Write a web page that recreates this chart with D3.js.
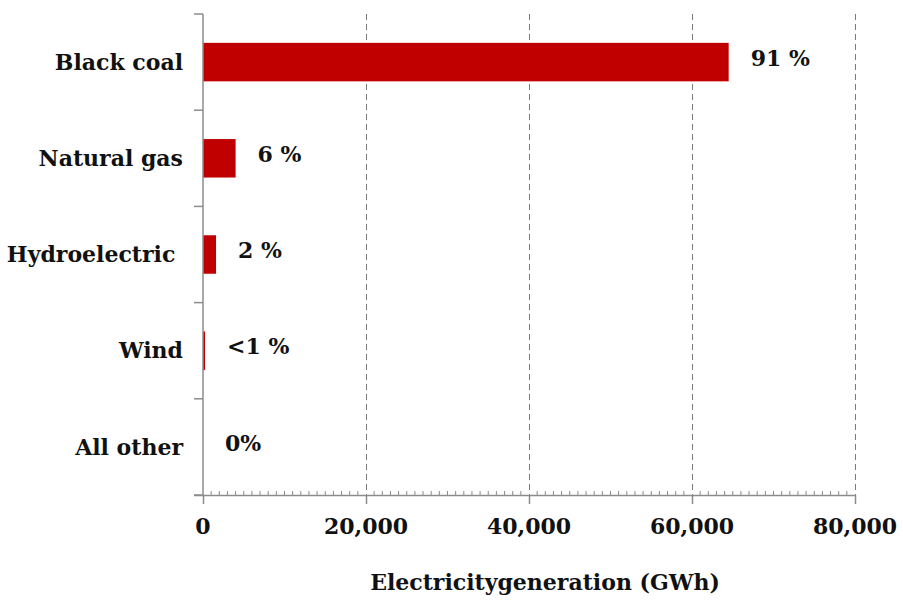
<!DOCTYPE html>
<html>
<head>
<meta charset="utf-8">
<script src="https://cdn.jsdelivr.net/npm/d3@7/dist/d3.min.js"></script>
<style>
  html, body { margin: 0; padding: 0; background: #fff; }
  svg { display: block; }
  text { font-family: "DejaVu Serif", Georgia, serif; font-weight: bold; fill: #111; white-space: pre; }
</style>
</head>
<body>
<svg id="chart" width="903" height="601"></svg>
<script>
// Electricity generation by fuel source (GWh) and share of total
const categories = ["Black coal", "Natural gas", "Hydroelectric ", "Wind", "All other"];
const generation = [64500, 4000, 1600, 250, 0];
const shareLabels = ["91 %", "6 %", "2 %", "<1 %", "0%"];
const xTicks = [0, 20000, 40000, 60000, 80000];

const svg = d3.select("#chart");
const plotLeft = 203, plotRight = 855, plotTop = 14, plotBottom = 495;

const x = d3.scaleLinear().domain([0, 80000]).range([plotLeft, plotRight]);
const y = d3.scaleBand().domain(categories).range([plotTop, plotBottom])
  .paddingInner(0.6).paddingOuter(0.3);

const axisColor = "#8c8c8c";

// dashed vertical gridlines
svg.append("g").selectAll("line")
  .data(xTicks.filter(d => d > 0))
  .join("line")
  .attr("x1", d => Math.round(x(d)) + 0.5).attr("x2", d => Math.round(x(d)) + 0.5)
  .attr("y1", plotTop).attr("y2", plotBottom)
  .attr("stroke", "#7a7a7a").attr("stroke-width", 1)
  .attr("stroke-dasharray", "6,4");

// bars
svg.append("g").selectAll("rect")
  .data(categories.map((c, i) => ({ c, v: generation[i] })))
  .join("rect")
  .attr("x", x(0))
  .attr("y", d => y(d.c))
  .attr("width", d => x(d.v) - x(0))
  .attr("height", y.bandwidth())
  .attr("fill", "#c00000");

// x axis: major ticks pointing down, minor ticks every 1,000 pointing up
const xAxis = svg.append("g").attr("transform", `translate(0,${plotBottom})`)
  .call(d3.axisBottom(x).tickValues(xTicks).tickSize(9).tickFormat(""));
xAxis.select(".domain").attr("stroke", axisColor).attr("stroke-width", 1.5)
  .attr("d", `M${plotLeft - 9},0.5H${plotRight}`);
xAxis.selectAll(".tick line").attr("stroke", axisColor).attr("stroke-width", 1.5);

svg.append("g").attr("transform", `translate(0,${plotBottom})`)
  .selectAll("line")
  .data(d3.range(1000, 80000, 1000).filter(d => d % 20000 !== 0))
  .join("line")
  .attr("x1", d => x(d)).attr("x2", d => x(d))
  .attr("y1", 0).attr("y2", -4)
  .attr("stroke", axisColor).attr("stroke-width", 1);

// tick labels
svg.append("g").selectAll("text")
  .data(xTicks)
  .join("text")
  .attr("x", d => x(d)).attr("y", 534)
  .attr("text-anchor", "middle")
  .style("font-size", "22px")
  .text(d3.format(","));

// y axis with ticks at category boundaries
const boundaries = categories.map(c => y(c) - y.step() * y.paddingOuter())
  .concat([plotBottom]);
svg.append("line")
  .attr("x1", plotLeft).attr("x2", plotLeft).attr("y1", plotTop).attr("y2", plotBottom)
  .attr("stroke", axisColor).attr("stroke-width", 1.5);
svg.append("g").selectAll("line")
  .data(boundaries)
  .join("line")
  .attr("x1", plotLeft - 9).attr("x2", plotLeft)
  .attr("y1", d => d).attr("y2", d => d)
  .attr("stroke", axisColor).attr("stroke-width", 1.5);

// category labels
svg.append("g").selectAll("text")
  .data(categories)
  .join("text")
  .attr("x", 183)
  .attr("y", d => y(d) + y.bandwidth() / 2)
  .attr("dy", "0.35em")
  .attr("text-anchor", "end")
  .style("font-size", "22px")
  .text(d => d);

// share labels beyond bar ends
svg.append("g").selectAll("text")
  .data(categories.map((c, i) => ({ c, v: generation[i], t: shareLabels[i] })))
  .join("text")
  .attr("x", d => x(d.v) + 22)
  .attr("y", d => y(d.c) + y.bandwidth() / 2 - 4)
  .attr("dy", "0.35em")
  .style("font-size", "22px")
  .text(d => d.t);

// axis title
svg.append("text")
  .attr("x", 545).attr("y", 590)
  .attr("text-anchor", "middle")
  .style("font-size", "22px")
  .text("Electricitygeneration (GWh)");
</script>
</body>
</html>
